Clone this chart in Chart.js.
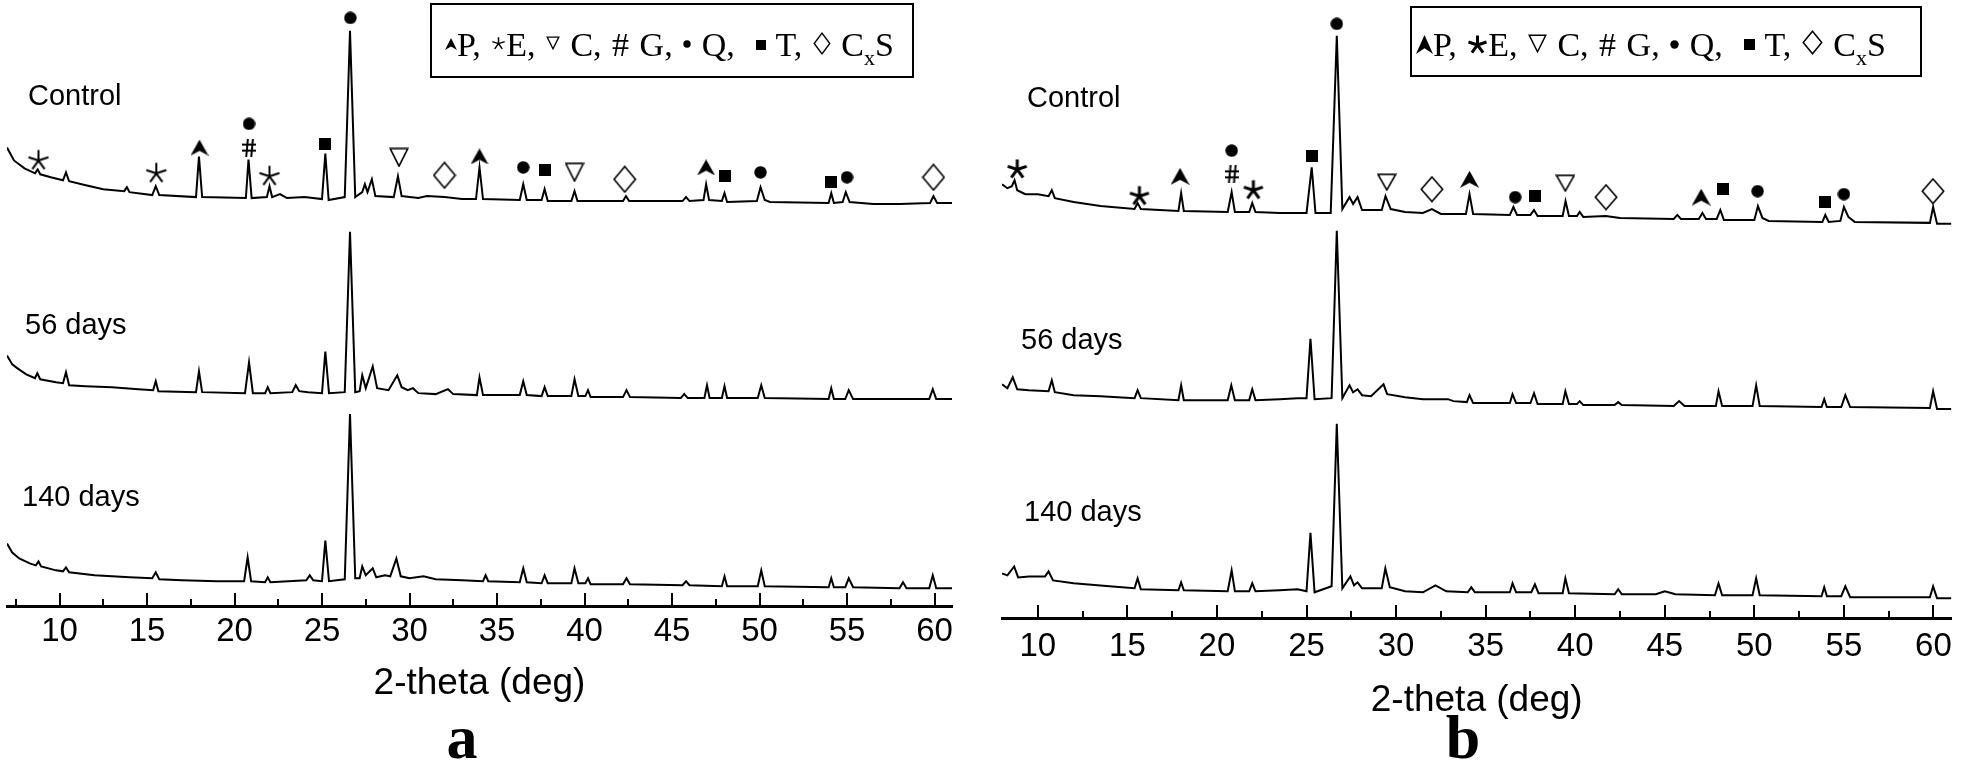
<!DOCTYPE html>
<html>
<head>
<meta charset="utf-8">
<script src="https://cdn.jsdelivr.net/npm/chart.js@4.4.1/dist/chart.umd.min.js"></script>
<style>
  body { margin: 0; background: #fff; width: 1961px; height: 765px; position: relative; overflow: hidden; font-family: "Liberation Sans", Arial, sans-serif; }
  #chartA, #chartB { position: absolute; top: 0; }
  .lab { position: absolute; font-size: 29px; line-height: 29px; color: #000; white-space: nowrap; }
  .key { position: absolute; border: 2px solid #000; box-sizing: border-box; }
  .keytxt { position: absolute; font-family: "Liberation Serif", "Times New Roman", serif; font-size: 34px; line-height: 34px; white-space: pre; word-spacing: 2px; color: #000; }
  .keytxt canvas { display: inline-block; }
  .keytxt sub { font-size: 22px; vertical-align: -9px; line-height: 0; }
  .panel { position: absolute; width: 100px; text-align: center; font-family: "Liberation Serif", serif; font-weight: bold; font-size: 62px; line-height: 62px; }
</style>
</head>
<body>
<canvas id="chartA" width="960" height="706" style="left:0"></canvas>
<canvas id="chartB" width="971" height="723" style="left:990px"></canvas>

<div class="key" id="keyA" style="left:430px;top:3px;width:484px;height:75px"></div>
<div class="key" id="keyB" style="left:1410px;top:6px;width:512px;height:71px"></div>

<div class="lab" style="left:28px;top:81px">Control</div>
<div class="lab" style="left:25px;top:310px">56 days</div>
<div class="lab" style="left:22px;top:482px">140 days</div>
<div class="lab" style="left:1027px;top:83px">Control</div>
<div class="lab" style="left:1021px;top:325px">56 days</div>
<div class="lab" style="left:1024px;top:497px">140 days</div>

<div class="panel" style="left:412px;top:706px">a</div>
<div class="panel" style="left:1413px;top:706px">b</div>

<script>
// x axis ticks (2-theta, deg)
const labTicks = [10, 15, 20, 25, 30, 35, 40, 45, 50, 55, 60];
const minTicksA = [7.5, 12.5, 17.5, 22.5, 27.5, 32.5, 37.5, 42.5, 47.5, 52.5, 57.5];
const minTicksB = [12.5, 17.5, 22.5, 27.5, 32.5, 37.5, 42.5, 47.5, 52.5, 57.5];

// panel a traces, [2-theta, stacked intensity a.u.]
const ctrlA = [[7.0,463],[7.4,450],[8.0,442],[8.6,437],[8.75,441],[8.9,436],[9.5,433],[10.2,430],[10.37,438],[10.55,429],[11.5,425],[12.5,421],[13.7,419],[13.85,423],[14.0,418],[15.3,415],[15.5,424],[15.7,415],[17.8,413],[17.97,454],[18.15,413],[20.65,412],[20.8,451],[20.98,412],[21.85,413],[22.0,424],[22.15,413],[22.6,416],[23.0,412],[24.0,413],[25.0,411],[25.19,457],[25.38,410],[26.3,413],[26.6,581],[26.9,413],[27.3,418],[27.45,426],[27.6,418],[27.85,431],[28.05,414],[29.1,413],[29.34,434],[29.55,414],[30.5,412],[31.0,414],[32.0,413],[33.0,411],[33.8,411],[34.0,443],[34.2,411],[36.3,410],[36.5,426],[36.7,410],[37.55,410],[37.72,421],[37.9,409],[39.25,409],[39.43,419],[39.6,409],[42.2,409],[42.37,414],[42.55,409],[45.6,409],[45.8,413],[46.0,409],[46.8,410],[46.95,426],[47.12,410],[47.85,409],[48.0,417],[48.15,408],[49.85,409],[50.06,423],[50.3,410],[50.6,408],[53.95,407],[54.1,417],[54.25,407],[54.75,408],[54.93,418],[55.15,408],[56.5,406],[58.0,406],[59.75,407],[59.94,414],[60.15,407],[61.0,407]];
const day56A = [[7.0,253],[7.3,244],[7.6,240],[8.1,234],[8.6,230],[8.73,235],[8.9,229],[9.8,226],[10.2,225],[10.37,236],[10.55,223],[11.5,222],[13.0,221],[14.5,219],[15.35,218],[15.5,227],[15.65,217],[17.8,216],[17.97,237],[18.15,216],[20.6,215],[20.83,246],[21.05,215],[21.75,215],[21.9,221],[22.05,215],[23.3,216],[23.5,223],[23.7,217],[24.2,216],[25.0,215],[25.19,257],[25.4,215],[26.3,216],[26.6,378],[26.9,216],[27.15,217],[27.3,233],[27.5,220],[27.9,242],[28.15,220],[28.8,218],[29.3,233],[29.55,221],[29.9,218],[30.2,220],[30.5,215],[31.5,214],[32.2,219],[32.5,214],[33.85,213],[34.0,231],[34.2,213],[36.3,213],[36.5,227],[36.7,213],[37.55,212],[37.72,221],[37.9,212],[39.25,212],[39.43,229],[39.65,212],[40.05,212],[40.2,218],[40.35,211],[42.2,211],[42.4,218],[42.6,211],[45.5,210],[45.7,214],[45.9,210],[46.85,210],[47.0,223],[47.15,210],[47.85,210],[48.0,222],[48.15,210],[49.9,210],[50.1,223],[50.3,210],[53.95,209],[54.1,220],[54.25,209],[54.9,209],[55.1,218],[55.35,209],[59.7,209],[59.9,219],[60.1,209],[61.0,209]];
const day140A = [[7.0,63],[7.3,54],[7.7,48],[8.3,43],[8.65,41],[8.8,45],[8.95,40],[9.8,36],[10.2,35],[10.37,39],[10.55,34],[12.0,31],[14.0,29],[15.3,28],[15.5,34],[15.7,27],[17.0,26],[19.0,25],[20.55,25],[20.75,49],[20.95,25],[21.75,24],[21.9,29],[22.05,24],[24.1,26],[24.3,31],[24.5,26],[25.0,25],[25.19,66],[25.4,25],[26.3,27],[26.6,194],[26.9,28],[27.15,28],[27.3,40],[27.5,31],[27.9,38],[28.1,29],[28.6,31],[28.9,30],[29.25,48],[29.5,30],[30.0,28],[30.8,30],[31.5,27],[33.0,26],[34.2,25],[34.35,31],[34.5,25],[36.3,24],[36.5,38],[36.7,24],[37.55,23],[37.72,31],[37.9,23],[39.25,23],[39.43,38],[39.65,23],[40.05,23],[40.2,28],[40.35,22],[42.2,22],[42.4,28],[42.6,22],[45.6,21],[45.8,25],[46.0,21],[47.85,20],[48.0,30],[48.15,20],[49.9,20],[50.1,36],[50.3,20],[53.95,19],[54.1,28],[54.25,19],[54.9,19],[55.1,28],[55.35,19],[58.0,18],[58.2,24],[58.4,18],[59.7,18],[59.9,31],[60.1,18],[61.0,18]];

// panel b traces
const ctrlB = [[8.0,438],[8.3,434],[8.55,436],[8.7,442],[8.85,432],[9.3,428],[10.0,428],[10.6,426],[10.78,432],[10.95,424],[12.0,420],[13.5,416],[15.4,413],[15.57,419],[15.75,413],[17.85,411],[18.0,429],[18.15,411],[20.6,410],[20.82,430],[21.0,410],[21.8,410],[21.97,419],[22.15,410],[23.5,409],[25.0,409],[25.29,455],[25.5,409],[26.35,409],[26.69,588],[27.0,413],[27.4,425],[27.6,418],[27.85,425],[28.1,412],[29.2,412],[29.41,426],[29.7,413],[30.5,410],[31.5,409],[32.0,413],[32.5,408],[33.9,408],[34.1,428],[34.3,408],[36.35,407],[36.55,415],[36.75,407],[37.5,407],[37.7,412],[37.9,406],[39.3,406],[39.46,421],[39.65,406],[40.1,406],[40.25,410],[40.45,405],[41.7,406],[42.5,404],[45.5,403],[45.7,407],[45.9,403],[46.9,403],[47.1,409],[47.3,403],[47.9,403],[48.1,412],[48.3,402],[50.0,402],[50.2,416],[50.45,404],[50.8,401],[53.8,400],[53.96,407],[54.15,400],[54.8,401],[55.0,415],[55.25,405],[55.6,400],[59.8,399],[59.98,415],[60.2,398],[61.0,398]];
const day56B = [[8.0,236],[8.3,232],[8.6,243],[8.85,231],[9.5,230],[10.6,229],[10.78,240],[10.95,228],[12.0,225],[13.5,224],[15.4,222],[15.57,230],[15.75,222],[17.85,220],[18.0,235],[18.15,220],[20.6,220],[20.8,235],[21.0,220],[21.8,220],[21.97,231],[22.15,220],[23.5,221],[24.5,222],[25.0,222],[25.22,282],[25.45,221],[26.4,222],[26.69,391],[27.0,222],[27.4,235],[27.6,228],[27.85,231],[28.1,225],[28.6,224],[29.3,236],[29.5,226],[30.5,223],[31.5,221],[32.9,221],[33.2,219],[33.95,218],[34.1,225],[34.3,217],[36.35,217],[36.5,226],[36.7,217],[37.5,217],[37.7,227],[37.9,216],[39.3,216],[39.45,229],[39.65,216],[40.1,216],[40.25,219],[40.45,215],[42.2,215],[42.4,218],[42.6,215],[45.5,214],[45.8,219],[46.1,214],[47.85,214],[48.0,229],[48.2,214],[49.9,214],[50.1,235],[50.3,214],[53.75,213],[53.9,221],[54.05,213],[54.85,213],[55.08,225],[55.35,213],[59.8,212],[59.98,229],[60.2,211],[61.0,211]];
const day140B = [[8.0,45],[8.3,43],[8.68,52],[8.9,41],[9.5,42],[10.4,42],[10.6,47],[10.85,38],[12.0,35],[14.0,32],[15.4,30],[15.57,40],[15.75,29],[17.85,28],[18.0,36],[18.15,28],[20.6,27],[20.82,48],[21.0,27],[21.8,27],[21.97,35],[22.15,27],[23.5,28],[24.5,29],[25.0,27],[25.22,86],[25.45,26],[26.4,32],[26.69,196],[27.0,30],[27.45,42],[27.65,33],[27.85,36],[28.1,30],[29.2,30],[29.4,50],[29.65,31],[30.5,27],[31.5,26],[32.2,33],[32.8,27],[34.0,26],[34.2,31],[34.4,26],[36.35,26],[36.5,35],[36.7,26],[37.55,26],[37.75,34],[37.95,25],[39.3,25],[39.45,40],[39.65,25],[42.2,24],[42.4,29],[42.6,24],[44.5,24],[45.0,27],[45.6,24],[47.8,23],[48.0,35],[48.2,23],[49.9,23],[50.1,40],[50.3,23],[53.75,22],[53.9,31],[54.05,22],[54.85,22],[55.08,32],[55.35,21],[59.8,21],[59.98,32],[60.2,20],[61.0,20]];

// phase markers above the control patterns: P, E, C, G, Q, T, CxS
const markA = {
  P: [[18.0,463],[34.0,454],[46.95,443]],
  E: [[8.8,451],[15.53,438],[22.0,435]],
  C: [[29.4,453],[39.43,438]],
  G: [[20.83,463]],
  Q: [[20.83,487],[26.62,594],[36.5,443],[50.06,438],[55.0,433]],
  T: [[25.19,467],[37.72,440],[48.0,434],[54.1,428]],
  X: [[32.0,435],[42.3,431],[59.94,433]]
};
const markB = {
  P: [[17.94,446],[34.1,443],[47.03,425]],
  E: [[8.85,454],[15.67,427],[22.03,433]],
  C: [[29.48,440],[39.45,439]],
  G: [[20.82,448]],
  Q: [[20.82,472],[26.69,600],[36.65,425],[50.18,431],[55.0,428]],
  T: [[25.29,467],[37.77,426],[48.26,433],[53.96,420]],
  X: [[32.0,433],[41.72,425],[59.97,431]]
};

// little symbol canvases, used as point styles and in the key
function glyph(kind, w, h, lw) {
  const c = document.createElement('canvas');
  c.width = w; c.height = h;
  const g = c.getContext('2d');
  g.fillStyle = '#000'; g.strokeStyle = '#000'; g.lineWidth = lw || 1.5;
  g.beginPath();
  if (kind === 'P') {
    g.moveTo(w / 2, 0); g.lineTo(w, h); g.lineTo(w / 2, h * 0.7); g.lineTo(0, h); g.closePath(); g.fill();
  } else if (kind === 'E') {
    const r = Math.min(w, h) / 2 - 0.5, cx = w / 2, cy = h / 2 + r * 0.1;
    for (let k = 0; k < 5; k++) {
      const a = -Math.PI / 2 + k * 2 * Math.PI / 5;
      g.moveTo(cx, cy); g.lineTo(cx + r * Math.cos(a), cy + r * Math.sin(a));
    }
    g.stroke();
  } else if (kind === 'C') {
    const m = g.lineWidth / 2 + 0.5;
    g.moveTo(m, m); g.lineTo(w - m, m); g.lineTo(w / 2, h - m); g.closePath(); g.stroke();
  } else if (kind === 'G') {
    // hash sign: two slanted uprights, two bars
    g.moveTo(w * 0.42, 0); g.lineTo(w * 0.30, h);
    g.moveTo(w * 0.78, 0); g.lineTo(w * 0.66, h);
    g.moveTo(0, h * 0.34); g.lineTo(w, h * 0.34);
    g.moveTo(0, h * 0.66); g.lineTo(w, h * 0.66);
    g.stroke();
  } else if (kind === 'Q') {
    g.arc(w / 2, h / 2, w / 2 - 0.3, 0, Math.PI * 2); g.fill();
  } else if (kind === 'T') {
    g.fillRect(0, 0, w, h);
  } else if (kind === 'X') {
    const m = g.lineWidth / 2 + 0.5;
    g.moveTo(w / 2, m); g.lineTo(w - m, h / 2); g.lineTo(w / 2, h - m); g.lineTo(m, h / 2); g.closePath(); g.stroke();
  }
  return c;
}

const symA = { P: glyph('P', 18, 16), E: glyph('E', 24, 22, 2), C: glyph('C', 20, 20, 1.6), G: glyph('G', 14, 18, 2),
  Q: glyph('Q', 13, 13), T: glyph('T', 12, 12), X: glyph('X', 24, 28, 1.6) };
const symB = { P: glyph('P', 19, 17), E: glyph('E', 24, 21, 3), C: glyph('C', 20, 18, 1.6), G: glyph('G', 14, 18, 2),
  Q: glyph('Q', 13, 13), T: glyph('T', 12, 12), X: glyph('X', 24, 27, 1.6) };

function toXY(arr) { return arr.map(p => ({ x: p[0], y: p[1] })); }

const innerTicks = {
  id: 'innerTicks',
  afterDraw(chart, args, opts) {
    const sx = chart.scales.x, ctx = chart.ctx, y0 = sx.top;
    ctx.save();
    ctx.strokeStyle = '#000'; ctx.lineWidth = 2;
    const tick = (v, len) => {
      const px = Math.round(sx.getPixelForValue(v));
      ctx.beginPath(); ctx.moveTo(px, y0); ctx.lineTo(px, y0 - len); ctx.stroke();
    };
    opts.major.forEach(v => tick(v, 13));
    opts.minor.forEach(v => tick(v, 7));
    ctx.restore();
  }
};

function makeChart(id, traces, marks, syms, xMin, yMax, pad, axisH, tickPad, minor) {
  const datasets = traces.map(t => ({
    data: toXY(t), borderColor: '#000', borderWidth: 2, pointRadius: 0, fill: false, tension: 0
  }));
  Object.keys(marks).forEach(k => {
    datasets.push({
      data: toXY(marks[k]), showLine: false, pointStyle: syms[k], pointRadius: 5, pointHoverRadius: 5,
      borderColor: '#000', backgroundColor: '#000'
    });
  });
  return new Chart(document.getElementById(id), {
    type: 'line',
    data: { datasets },
    plugins: [innerTicks],
    options: {
      responsive: false,
      animation: false,
      events: [],
      layout: { padding: pad },
      plugins: {
        legend: { display: false },
        tooltip: { enabled: false },
        innerTicks: { major: labTicks, minor: minor }
      },
      scales: {
        x: {
          type: 'linear', min: xMin, max: 61,
          afterBuildTicks: s => { s.ticks = labTicks.map(v => ({ value: v })); },
          afterFit: s => { s.height = axisH; },
          ticks: { font: { family: 'Liberation Sans', size: 33 }, color: '#000', padding: tickPad, autoSkip: false, maxRotation: 0 },
          grid: { display: true, drawOnChartArea: false, drawTicks: false },
          border: { display: true, color: '#000', width: 3 },
          title: { display: true, text: '2-theta (deg)', color: '#000', font: { family: 'Liberation Sans', size: 37 }, padding: { top: 0, bottom: 0 } }
        },
        y: { display: false, min: 0, max: yMax }
      }
    }
  });
}

makeChart('chartA', [ctrlA, day56A, day140A], markA, symA, 7, 606, { left: 7, right: 8, top: 0, bottom: 0 }, 100, 6, minTicksA);
makeChart('chartB', [ctrlB, day56B, day140B], markB, symB, 8, 618, { left: 12, right: 9, top: 0, bottom: 0 }, 105, 9, minTicksB);

// key boxes
function buildKey(boxId, s, left) {
  const t = document.createElement('div');
  t.className = 'keytxt';
  t.style.left = left + 'px';
  t.style.top = (boxId === 'keyA' ? 23 : 20) + 'px';
  const add = (sym, va) => { sym.style.verticalAlign = va + 'px'; t.appendChild(sym); };
  const txt = str => t.appendChild(document.createTextNode(str));
  add(s.P, s.vaP); txt('P, ');
  add(s.E, s.vaE); txt('E, ');
  add(s.C, s.vaC); txt(' C, # G, ');
  add(s.Q, s.vaQ); txt(' Q,  ');
  add(s.T, s.vaT); txt(' T, ');
  add(s.X, s.vaX); txt(' C');
  const sub = document.createElement('sub'); sub.textContent = 'x'; t.appendChild(sub);
  txt('S');
  document.getElementById(boxId).appendChild(t);
}
buildKey('keyA', { P: glyph('P', 12, 12), E: glyph('E', 15, 14, 1.5), C: glyph('C', 14, 14, 1.3), Q: glyph('Q', 8, 8),
  T: glyph('T', 10, 10), X: glyph('X', 18, 23, 1.4), vaP: 6, vaE: 6, vaC: 6, vaQ: 8, vaT: 6, vaX: 1 }, 13);
buildKey('keyB', { P: glyph('P', 17, 19), E: glyph('E', 21, 20, 3), C: glyph('C', 19, 19, 1.5), Q: glyph('Q', 9, 9),
  T: glyph('T', 11, 11), X: glyph('X', 21, 25, 1.5), vaP: 2, vaE: 2, vaC: 3, vaQ: 7, vaT: 6, vaX: 1 }, 4);
</script>
</body>
</html>
